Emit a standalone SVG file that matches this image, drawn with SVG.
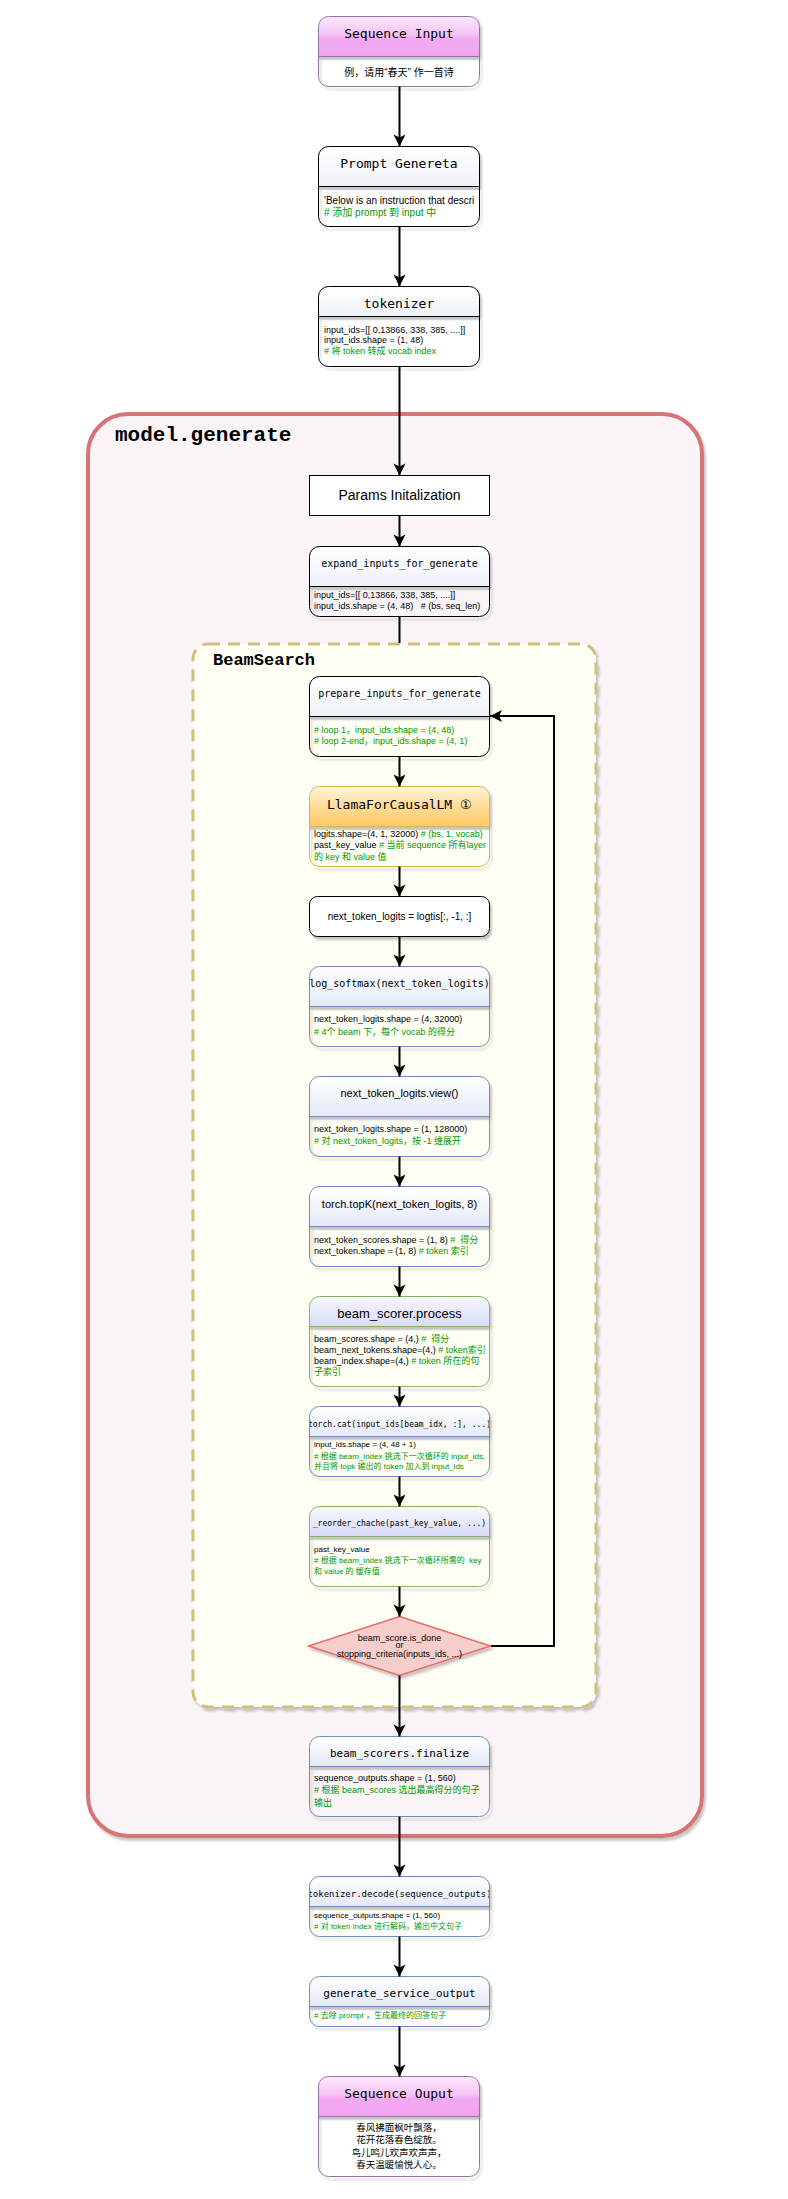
<svg xmlns="http://www.w3.org/2000/svg" width="788" height="2199" viewBox="0 0 788 2199">
<style>
.mono{font-family:"DejaVu Sans Mono",monospace;fill:#000}
.sans{font-family:"Liberation Sans","Noto Sans CJK SC",sans-serif;fill:#000}
.c{text-anchor:middle}
.g{fill:#009900}
.b9{font-size:9px}
.b8{font-size:8px}
.b10{font-size:10px}
.ln{fill:none;stroke:#000;stroke-width:2}
.band{fill:#c6c6c6}
</style>
<defs>
<linearGradient id="gPink" x1="0" y1="0" x2="0" y2="1"><stop offset="0" stop-color="#fde9fd"/><stop offset="0.45" stop-color="#f6c3f6"/><stop offset="0.55" stop-color="#f2aaf2"/><stop offset="1" stop-color="#f0a4f0"/></linearGradient>
<linearGradient id="gOrange" x1="0" y1="0" x2="0" y2="1"><stop offset="0" stop-color="#fff4dc"/><stop offset="0.5" stop-color="#ffdc98"/><stop offset="1" stop-color="#ffc862"/></linearGradient>
<linearGradient id="gBlue" x1="0" y1="0" x2="0" y2="1"><stop offset="0" stop-color="#ffffff"/><stop offset="1" stop-color="#e3e9f7"/></linearGradient>
<linearGradient id="gLav" x1="0" y1="0" x2="0" y2="1"><stop offset="0" stop-color="#f8f8ff"/><stop offset="1" stop-color="#d8dbf8"/></linearGradient>
<linearGradient id="gWhite" x1="0" y1="0" x2="0" y2="1"><stop offset="0" stop-color="#ffffff"/><stop offset="1" stop-color="#eef1f8"/></linearGradient>
<filter id="sh" x="-10%" y="-10%" width="130%" height="130%"><feDropShadow dx="2" dy="3" stdDeviation="1" flood-color="#000" flood-opacity="0.22"/></filter>
<marker id="arr" markerUnits="userSpaceOnUse" markerWidth="14" markerHeight="14" viewBox="0 0 14 14" refX="13" refY="7" orient="auto"><path d="M1,1 L13,7 L1,13 L4,7 Z" fill="#000"/></marker>
<clipPath id="clW1"><rect x="310" y="787" width="179" height="79"/></clipPath>
<clipPath id="clLs"><rect x="310" y="967" width="179" height="40"/></clipPath>
<clipPath id="clCat"><rect x="310" y="1407" width="179" height="69"/></clipPath>
<clipPath id="clDec"><rect x="310" y="1877" width="179" height="59"/></clipPath>
</defs>

<g id="containers">
<g id="model-generate">
<rect x="88" y="414" width="614" height="1422" rx="40" fill="#faf4f7" stroke="#d67474" stroke-width="4" filter="url(#sh)"/>
<text x="115" y="441" style="font-family:'Liberation Mono',monospace;font-weight:bold;font-size:21px">model.generate</text>
</g>
<g id="beamsearch">
<rect x="193" y="644" width="403" height="1063" rx="15" fill="#fefef4" stroke="#d2bf80" stroke-width="3" stroke-dasharray="12 8" filter="url(#sh)"/>
<text x="213" y="665" style="font-family:'Liberation Mono',monospace;font-weight:bold;font-size:17px">BeamSearch</text>
</g>
</g>

<g id="n-seqin">
<g filter="url(#sh)">
<path d="M318.5,56.5 V26.5 A10,10 0 0 1 328.5,16.5 H469.5 A10,10 0 0 1 479.5,26.5 V56.5 Z" fill="url(#gPink)"/>
<rect x="318.5" y="16.5" width="161" height="70" rx="10" fill="none" stroke="#9673a6"/>
</g>
<rect class="band" x="319" y="57" width="160" height="2.5"/>
<line x1="318.5" y1="56.5" x2="479.5" y2="56.5" stroke="#9673a6"/>
<text class="mono c" x="399" y="38" font-size="13">Sequence Input</text>
<text class="sans c" x="399" y="75.5" font-size="10">例，请用“春天” 作一首诗</text>
</g>

<g id="n-prompt">
<g filter="url(#sh)">
<path d="M318.5,186.5 V156.5 A10,10 0 0 1 328.5,146.5 H469.5 A10,10 0 0 1 479.5,156.5 V186.5 Z" fill="url(#gWhite)"/>
<rect x="318.5" y="146.5" width="161" height="80" rx="10" fill="none" stroke="#000"/>
</g>
<rect class="band" x="319" y="187" width="160" height="2.5"/>
<line x1="318.5" y1="186.5" x2="479.5" y2="186.5" stroke="#000"/>
<text class="mono c" x="399" y="168" font-size="13">Prompt Genereta</text>
<text class="sans b10" x="324" y="204">'Below is an instruction that descri</text>
<text class="sans b10 g" x="324" y="215.5"># 添加 prompt 到 input 中</text>
</g>

<g id="n-tokenizer">
<g filter="url(#sh)">
<path d="M318.5,316.5 V296.5 A10,10 0 0 1 328.5,286.5 H469.5 A10,10 0 0 1 479.5,296.5 V316.5 Z" fill="url(#gWhite)"/>
<rect x="318.5" y="286.5" width="161" height="80" rx="10" fill="none" stroke="#000"/>
</g>
<rect class="band" x="319" y="317" width="160" height="2.5"/>
<line x1="318.5" y1="316.5" x2="479.5" y2="316.5" stroke="#000"/>
<text class="mono c" x="399" y="308" font-size="13">tokenizer</text>
<text class="sans b9" x="324" y="332.5">input_ids=[[ 0,13866, 338, 385, ....]]</text>
<text class="sans b9" x="324" y="343.2">input_ids.shape = (1, 48)</text>
<text class="sans b9 g" x="324" y="354"># 将 token 转成 vocab index</text>
</g>

<g id="n-params">
<rect x="309.5" y="475.5" width="180" height="40" fill="#fff" stroke="#000"/>
<text class="sans c" x="399.5" y="500" font-size="14">Params Initalization</text>
</g>

<g id="n-expand">
<g filter="url(#sh)">
<path d="M309.5,586.5 V556.5 A10,10 0 0 1 319.5,546.5 H479.5 A10,10 0 0 1 489.5,556.5 V586.5 Z" fill="url(#gWhite)"/>
<rect x="309.5" y="546.5" width="180" height="70" rx="10" fill="none" stroke="#000"/>
</g>
<rect class="band" x="310" y="587" width="179" height="2.5"/>
<line x1="309.5" y1="586.5" x2="489.5" y2="586.5" stroke="#000"/>
<text class="mono c" x="399.5" y="567" font-size="10">expand_inputs_for_generate</text>
<text class="sans b9" x="314" y="598.2">input_ids=[[ 0,13866, 338, 385, ....]]</text>
<text class="sans b9" x="314" y="609.2" xml:space="preserve">input_ids.shape = (4, 48)   # (bs, seq_len)</text>
</g>

<g id="n-prepare">
<g filter="url(#sh)">
<path d="M309.5,716.5 V686.5 A10,10 0 0 1 319.5,676.5 H479.5 A10,10 0 0 1 489.5,686.5 V716.5 Z" fill="url(#gWhite)"/>
<rect x="309.5" y="676.5" width="180" height="80" rx="10" fill="none" stroke="#000"/>
</g>
<rect class="band" x="310" y="717" width="179" height="2.5"/>
<line x1="309.5" y1="716.5" x2="489.5" y2="716.5" stroke="#000"/>
<text class="mono c" x="399.5" y="697" font-size="10">prepare_inputs_for_generate</text>
<text class="sans b9 g" x="314" y="733.2"># loop 1，input_ids.shape = (4, 48)</text>
<text class="sans b9 g" x="314" y="744.2"># loop 2-end，input_ids.shape = (4, 1)</text>
</g>

<g id="n-llama">
<g filter="url(#sh)">
<path d="M309.5,826.5 V796.5 A10,10 0 0 1 319.5,786.5 H479.5 A10,10 0 0 1 489.5,796.5 V826.5 Z" fill="url(#gOrange)"/>
<rect x="309.5" y="786.5" width="180" height="80" rx="10" fill="none" stroke="#d6b656"/>
</g>
<rect class="band" x="310" y="827" width="179" height="2.5"/>
<line x1="309.5" y1="826.5" x2="489.5" y2="826.5" stroke="#d6b656"/>
<text class="mono c" x="399.5" y="809" font-size="13">LlamaForCausalLM ①</text>
<g clip-path="url(#clW1)">
<text class="sans b9" x="314" y="837.2">logits.shape=(4, 1, 32000) <tspan class="g"># (bs, 1, vocab)</tspan></text>
<text class="sans b9" x="314" y="848.2">past_key_value <tspan class="g"># 当前 sequence 所有layer</tspan></text>
<text class="sans b9 g" x="314" y="859.5">的 key 和 value 值</text>
</g>
</g>

<g id="n-next">
<rect x="309.5" y="896.5" width="180" height="40" rx="8" fill="#fff" stroke="#000" filter="url(#sh)"/>
<text class="sans c b10" x="399.5" y="920.3">next_token_logits = logtis[:, -1, :]</text>
</g>

<g id="n-logsoftmax">
<g filter="url(#sh)">
<path d="M309.5,1006.5 V976.5 A10,10 0 0 1 319.5,966.5 H479.5 A10,10 0 0 1 489.5,976.5 V1006.5 Z" fill="url(#gBlue)"/>
<rect x="309.5" y="966.5" width="180" height="80" rx="10" fill="none" stroke="#6c8ebf"/>
</g>
<rect class="band" x="310" y="1007" width="179" height="2.5"/>
<line x1="309.5" y1="1006.5" x2="489.5" y2="1006.5" stroke="#6c8ebf"/>
<text class="mono c" x="399.5" y="987" font-size="10" clip-path="url(#clLs)">log_softmax(next_token_logits)</text>
<text class="sans b9" x="314" y="1021.9">next_token_logits.shape = (4, 32000)</text>
<text class="sans b9 g" x="314" y="1035.2"># 4个 beam 下，每个 vocab 的得分</text>
</g>

<g id="n-view">
<g filter="url(#sh)">
<path d="M309.5,1116.5 V1086.5 A10,10 0 0 1 319.5,1076.5 H479.5 A10,10 0 0 1 489.5,1086.5 V1116.5 Z" fill="url(#gBlue)"/>
<rect x="309.5" y="1076.5" width="180" height="80" rx="10" fill="none" stroke="#6c8ebf"/>
</g>
<rect class="band" x="310" y="1117" width="179" height="2.5"/>
<line x1="309.5" y1="1116.5" x2="489.5" y2="1116.5" stroke="#6c8ebf"/>
<text class="sans c" x="399.5" y="1097.3" font-size="11">next_token_logits.view()</text>
<text class="sans b9" x="314" y="1132.2">next_token_logits.shape = (1, 128000)</text>
<text class="sans b9 g" x="314" y="1143.9"># 对 next_token_logits，按 -1 维展开</text>
</g>

<g id="n-topk">
<g filter="url(#sh)">
<path d="M309.5,1226.5 V1196.5 A10,10 0 0 1 319.5,1186.5 H479.5 A10,10 0 0 1 489.5,1196.5 V1226.5 Z" fill="url(#gBlue)"/>
<rect x="309.5" y="1186.5" width="180" height="80" rx="10" fill="none" stroke="#6c8ebf"/>
</g>
<rect class="band" x="310" y="1227" width="179" height="2.5"/>
<line x1="309.5" y1="1226.5" x2="489.5" y2="1226.5" stroke="#6c8ebf"/>
<text class="sans c" x="399.5" y="1208.3" font-size="11">torch.topK(next_token_logits, 8)</text>
<text class="sans b9" x="314" y="1243.2" xml:space="preserve">next_token_scores.shape = (1, 8) <tspan class="g">#  得分</tspan></text>
<text class="sans b9" x="314" y="1254.2">next_token.shape = (1, 8) <tspan class="g"># token 索引</tspan></text>
</g>

<g id="n-scorer">
<g filter="url(#sh)">
<path d="M309.5,1326.5 V1306.5 A10,10 0 0 1 319.5,1296.5 H479.5 A10,10 0 0 1 489.5,1306.5 V1326.5 Z" fill="url(#gLav)"/>
<rect x="309.5" y="1296.5" width="180" height="90" rx="10" fill="none" stroke="#82b366"/>
</g>
<rect class="band" x="310" y="1327" width="179" height="2.5"/>
<line x1="309.5" y1="1326.5" x2="489.5" y2="1326.5" stroke="#82b366"/>
<text class="sans c" x="399.5" y="1318.3" font-size="13">beam_scorer.process</text>
<text class="sans b9" x="314" y="1342.2" xml:space="preserve">beam_scores.shape = (4,) <tspan class="g">#  得分</tspan></text>
<text class="sans b9" x="314" y="1353.2">beam_next_tokens.shape=(4,) <tspan class="g"># token索引</tspan></text>
<text class="sans b9" x="314" y="1364.2">beam_index.shape=(4,) <tspan class="g"># token 所在的句</tspan></text>
<text class="sans b9 g" x="314" y="1374.5">子索引</text>
</g>

<g id="n-cat">
<g filter="url(#sh)">
<path d="M309.5,1436.5 V1416.5 A10,10 0 0 1 319.5,1406.5 H479.5 A10,10 0 0 1 489.5,1416.5 V1436.5 Z" fill="url(#gBlue)"/>
<rect x="309.5" y="1406.5" width="180" height="70" rx="10" fill="none" stroke="#6c8ebf"/>
</g>
<rect class="band" x="310" y="1437" width="179" height="2.5"/>
<line x1="309.5" y1="1436.5" x2="489.5" y2="1436.5" stroke="#6c8ebf"/>
<g clip-path="url(#clCat)">
<text class="mono c" x="399.5" y="1427" font-size="8">torch.cat(input_ids[beam_idx, :], ...)</text>
<text class="sans b8" x="314" y="1447.2">input_ids.shape = (4, 48 + 1)</text>
<text class="sans b8 g" x="314" y="1458.6"># 根据 beam_index 挑选下一次循环的 input_ids,</text>
<text class="sans b8 g" x="314" y="1469.2">并且将 topk 输出的 token 加入到 input_ids</text>
</g>
</g>

<g id="n-reorder">
<g filter="url(#sh)">
<path d="M309.5,1536.5 V1516.5 A10,10 0 0 1 319.5,1506.5 H479.5 A10,10 0 0 1 489.5,1516.5 V1536.5 Z" fill="url(#gLav)"/>
<rect x="309.5" y="1506.5" width="180" height="80" rx="10" fill="none" stroke="#82b366"/>
</g>
<rect class="band" x="310" y="1537" width="179" height="2.5"/>
<line x1="309.5" y1="1536.5" x2="489.5" y2="1536.5" stroke="#82b366"/>
<text class="mono c" x="399.5" y="1526.3" font-size="8">_reorder_chache(past_key_value, ...)</text>
<text class="sans b8" x="314" y="1552.2">past_key_value</text>
<text class="sans b8 g" x="314" y="1563.2" xml:space="preserve"># 根据 beam_index 挑选下一次循环所需的  key</text>
<text class="sans b8 g" x="314" y="1574.2">和 value 的 缓存值</text>
</g>

<g id="n-done">
<polygon points="399.5,1616.5 490.5,1646 399.5,1675.5 308.5,1646" fill="#f8cecc" stroke="#ea6b66" stroke-width="1.5" filter="url(#sh)"/>
<text class="sans c b9" x="399.5" y="1640.5">beam_score.is_done</text>
<text class="sans c b9" x="399.5" y="1648.3">or</text>
<text class="sans c b9" x="399.5" y="1656.5">stopping_criteria(inputs_ids, ...)</text>
</g>

<g id="n-finalize">
<g filter="url(#sh)">
<path d="M309.5,1766.5 V1746.5 A10,10 0 0 1 319.5,1736.5 H479.5 A10,10 0 0 1 489.5,1746.5 V1766.5 Z" fill="url(#gBlue)"/>
<rect x="309.5" y="1736.5" width="180" height="80" rx="10" fill="none" stroke="#6c8ebf"/>
</g>
<rect class="band" x="310" y="1767" width="179" height="2.5"/>
<line x1="309.5" y1="1766.5" x2="489.5" y2="1766.5" stroke="#6c8ebf"/>
<text class="mono c" x="399.5" y="1757.3" font-size="11">beam_scorers.finalize</text>
<text class="sans b9" x="314" y="1781.2">sequence_outputs.shape = (1, 560)</text>
<text class="sans b9 g" x="314" y="1793.2"># 根据 beam_scores 选出最高得分的句子</text>
<text class="sans b9 g" x="314" y="1805.9">输出</text>
</g>

<g id="n-decode">
<g filter="url(#sh)">
<path d="M309.5,1906.5 V1886.5 A10,10 0 0 1 319.5,1876.5 H479.5 A10,10 0 0 1 489.5,1886.5 V1906.5 Z" fill="url(#gBlue)"/>
<rect x="309.5" y="1876.5" width="180" height="60" rx="10" fill="none" stroke="#6c8ebf"/>
</g>
<rect class="band" x="310" y="1907" width="179" height="2.5"/>
<line x1="309.5" y1="1906.5" x2="489.5" y2="1906.5" stroke="#6c8ebf"/>
<text class="mono c" x="399.5" y="1897" font-size="9" clip-path="url(#clDec)">tokenizer.decode(sequence_outputs)</text>
<text class="sans b8" x="314" y="1918">sequence_outputs.shape = (1, 560)</text>
<text class="sans b8 g" x="314" y="1929.2"># 对 token index 进行解码，输出中文句子</text>
</g>

<g id="n-gensvc">
<g filter="url(#sh)">
<path d="M309.5,2006.5 V1986.5 A10,10 0 0 1 319.5,1976.5 H479.5 A10,10 0 0 1 489.5,1986.5 V2006.5 Z" fill="url(#gBlue)"/>
<rect x="309.5" y="1976.5" width="180" height="50" rx="10" fill="none" stroke="#6c8ebf"/>
</g>
<rect class="band" x="310" y="2007" width="179" height="2.5"/>
<line x1="309.5" y1="2006.5" x2="489.5" y2="2006.5" stroke="#6c8ebf"/>
<text class="mono c" x="399.5" y="1997.3" font-size="11">generate_service_output</text>
<text class="sans b8 g" x="314" y="2018.2"># 去除 prompt ，生成最终的回答句子</text>
</g>

<g id="n-seqout">
<g filter="url(#sh)">
<path d="M318.5,2116.5 V2086.5 A10,10 0 0 1 328.5,2076.5 H469.5 A10,10 0 0 1 479.5,2086.5 V2116.5 Z" fill="url(#gPink)"/>
<rect x="318.5" y="2076.5" width="161" height="100" rx="10" fill="none" stroke="#9673a6"/>
</g>
<rect class="band" x="319" y="2117" width="160" height="2.5"/>
<line x1="318.5" y1="2116.5" x2="479.5" y2="2116.5" stroke="#9673a6"/>
<text class="mono c" x="399" y="2098" font-size="13">Sequence Ouput</text>
<text class="sans c" x="399" y="2131" font-size="9.5">春风拂面枫叶飘落，</text>
<text class="sans c" x="399" y="2142.8" font-size="9.5">花开花落春色绽放。</text>
<text class="sans c" x="399" y="2155.5" font-size="9.5">鸟儿鸣儿欢声欢声声，</text>
<text class="sans c" x="399" y="2167.5" font-size="9.5">春天温暖愉悦人心。</text>
</g>

<g id="connectors">
<line class="ln" x1="399.5" y1="86.5" x2="399.5" y2="146.5" marker-end="url(#arr)"/>
<line class="ln" x1="399.5" y1="226.5" x2="399.5" y2="286.5" marker-end="url(#arr)"/>
<line class="ln" x1="399.5" y1="366.5" x2="399.5" y2="475.5" marker-end="url(#arr)"/>
<line class="ln" x1="399.5" y1="515.5" x2="399.5" y2="546.5" marker-end="url(#arr)"/>
<line class="ln" x1="399.5" y1="616.5" x2="399.5" y2="643"/>
<line class="ln" x1="399.5" y1="756.5" x2="399.5" y2="786.5" marker-end="url(#arr)"/>
<line class="ln" x1="399.5" y1="866.5" x2="399.5" y2="896.5" marker-end="url(#arr)"/>
<line class="ln" x1="399.5" y1="936.5" x2="399.5" y2="966.5" marker-end="url(#arr)"/>
<line class="ln" x1="399.5" y1="1046.5" x2="399.5" y2="1076.5" marker-end="url(#arr)"/>
<line class="ln" x1="399.5" y1="1156.5" x2="399.5" y2="1186.5" marker-end="url(#arr)"/>
<line class="ln" x1="399.5" y1="1266.5" x2="399.5" y2="1296.5" marker-end="url(#arr)"/>
<line class="ln" x1="399.5" y1="1386.5" x2="399.5" y2="1406.5" marker-end="url(#arr)"/>
<line class="ln" x1="399.5" y1="1476.5" x2="399.5" y2="1506.5" marker-end="url(#arr)"/>
<line class="ln" x1="399.5" y1="1586.5" x2="399.5" y2="1616.5" marker-end="url(#arr)"/>
<line class="ln" x1="399.5" y1="1675.5" x2="399.5" y2="1736.5" marker-end="url(#arr)"/>
<line class="ln" x1="399.5" y1="1816.5" x2="399.5" y2="1876.5" marker-end="url(#arr)"/>
<line class="ln" x1="399.5" y1="1936.5" x2="399.5" y2="1976.5" marker-end="url(#arr)"/>
<line class="ln" x1="399.5" y1="2026.5" x2="399.5" y2="2076.5" marker-end="url(#arr)"/>
<path class="ln" d="M491,1646 H554 V716 H490" marker-end="url(#arr)"/>
</g>
</svg>
